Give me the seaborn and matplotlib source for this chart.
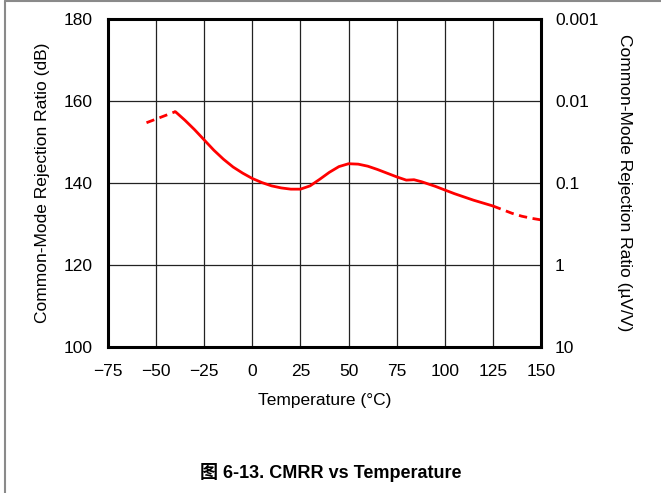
import matplotlib
matplotlib.use("Agg")
import matplotlib.pyplot as plt
from matplotlib.lines import Line2D
import seaborn as sns
import pandas as pd

# CMRR in dB versus temperature
temp_solid = [-40, -35, -30, -25, -20, -15, -10, -5, 0, 5, 10, 15, 20, 25, 30, 35, 40,
              45, 50, 55, 60, 65, 70, 75, 80, 84, 88, 95, 100, 105, 110, 115, 120, 125]
cmrr_solid = [157.4, 155.3, 153.0, 150.5, 148.0, 145.8, 143.9, 142.4, 141.1, 140.1, 139.3,
              138.8, 138.5, 138.5, 139.3, 140.9, 142.6, 144.0, 144.7, 144.6, 144.1, 143.3,
              142.4, 141.5, 140.7, 140.8, 140.3, 139.2, 138.3, 137.4, 136.6, 135.8, 135.1, 134.4]
temp_low = [-55, -40]
cmrr_low = [154.7, 157.4]
temp_high = [125, 130, 135, 140, 145, 150]
cmrr_high = [134.4, 133.5, 132.6, 131.9, 131.4, 131.0]

x_ticks = [-75, -50, -25, 0, 25, 50, 75, 100, 125, 150]
x_tick_labels = ["\u221275", "\u221250", "\u221225", "0", "25", "50", "75", "100", "125", "150"]
y_ticks = [100, 120, 140, 160, 180]
right_tick_labels = ["10", "1", "0.1", "0.01", "0.001"]

sns.set_theme(style="white")
plt.rcParams["font.family"] = ["Liberation Sans", "Noto Sans CJK SC", "DejaVu Sans"]

fig = plt.figure(figsize=(6.61, 4.93), dpi=100)
ax = fig.add_axes([108 / 661, 1 - 347 / 493, (541 - 108) / 661, (347 - 19) / 493])

red = "#ff0000"
sns.lineplot(data=pd.DataFrame({"t": temp_solid, "db": cmrr_solid}), x="t", y="db",
             ax=ax, color=red, linewidth=2.0, sort=False)
sns.lineplot(data=pd.DataFrame({"t": temp_low, "db": cmrr_low}), x="t", y="db",
             ax=ax, color=red, linewidth=2.0, linestyle=(0, (3, 2)), sort=False)
sns.lineplot(data=pd.DataFrame({"t": temp_high, "db": cmrr_high}), x="t", y="db",
             ax=ax, color=red, linewidth=2.0, linestyle=(0, (3, 2)), sort=False)

ax.set_xlim(-75, 150)
ax.set_ylim(100, 180)
ax.set_xticks(x_ticks)
ax.set_xticklabels(x_tick_labels)
ax.set_yticks(y_ticks)
ax.grid(True, color="#222222", linewidth=0.9)
ax.set_axisbelow(True)
for s in ax.spines.values():
    s.set_visible(True)
    s.set_color("black")
    s.set_linewidth(2.2)
ax.tick_params(axis="both", length=0, labelsize=12.5, colors="black")
ax.tick_params(axis="x", pad=12)
ax.tick_params(axis="y", pad=11)
ax.set_xlabel("Temperature (\u00b0C)", fontsize=12.5, labelpad=10, color="black")
ax.set_ylabel("Common-Mode Rejection Ratio (dB)", fontsize=12.5, labelpad=10, color="black")

ax2 = ax.twinx()
ax2.set_ylim(100, 180)
ax2.set_yticks(y_ticks)
ax2.set_yticklabels(right_tick_labels)
ax2.tick_params(axis="y", length=0, labelsize=12.5, pad=10, colors="black")
for s in ax2.spines.values():
    s.set_visible(False)
ax2.set_ylabel("Common-Mode Rejection Ratio (\u00b5V/V)", fontsize=12.5, rotation=270,
               labelpad=24, color="black")

fig.text(0.5, 1 - 473 / 493, "\u56fe 6-13. CMRR vs Temperature", ha="center", va="center",
         fontsize=13, fontweight="bold", color="black")

# page frame
fig.add_artist(Line2D([5 / 661, 5 / 661], [0, 1 - 1 / 493], transform=fig.transFigure,
                      color="#8a8a8a", linewidth=1.5))
fig.add_artist(Line2D([5 / 661, 1], [1 - 1 / 493, 1 - 1 / 493], transform=fig.transFigure,
                      color="#8a8a8a", linewidth=1.5))

fig.savefig("out.png", dpi=100)
